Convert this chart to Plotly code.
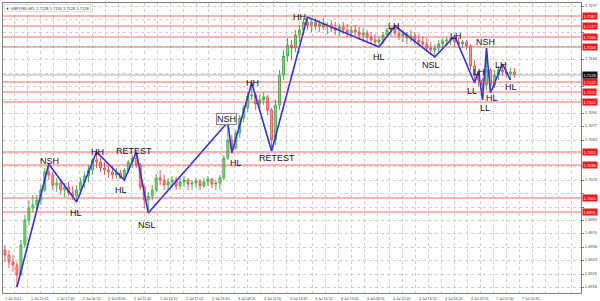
import plotly.graph_objects as go

# ---------------- data ----------------
first_open = 1.6953
highs = [1.6958,1.6953,1.6948,1.6941,1.6963,1.6988,1.7003,1.7008,1.7008,1.7018,
         1.7035,1.7039,1.7031,1.7025,1.7023,1.7020,1.7021,1.7017,1.7018,1.7025,
         1.7031,1.7038,1.7045,1.7051,1.7045,1.7041,1.7040,1.7037,1.7035,1.7033,
         1.7035,1.7043,1.7048,1.7051,1.7040,1.7018,1.7011,1.7018,1.7029,1.7033,
         1.7028,1.7025,1.7027,1.7026,1.7025,1.7027,1.7025,1.7023,1.7025,1.7024,
         1.7025,1.7027,1.7025,1.7023,1.7028,1.7048,1.7081,1.7068,1.7073,1.7088,
         1.7098,1.7111,1.7120,1.7111,1.7108,1.7111,1.7108,1.7095,1.7103,1.7133,
         1.7153,1.7165,1.7163,1.7173,1.7178,1.7185,1.7186,1.7185,1.7185,1.7183,
         1.7185,1.7181,1.7183,1.7181,1.7179,1.7181,1.7179,1.7177,1.7178,1.7176,
         1.7175,1.7173,1.7171,1.7169,1.7167,1.7171,1.7175,1.7176,1.7177,1.7175,
         1.7173,1.7171,1.7173,1.7171,1.7169,1.7167,1.7165,1.7161,1.7159,1.7163,
         1.7165,1.7166,1.7165,1.7167,1.7165,1.7163,1.7163,1.7159,1.7143,1.7132,
         1.7125,1.7155,1.7135,1.7133,1.7137,1.7139,1.7135,1.7135,1.7135]
lows = [1.6941,1.6935,1.6931,1.6916,1.6928,1.6955,1.6978,1.6991,1.6993,1.6998,
        1.7011,1.7023,1.7013,1.7011,1.7008,1.7006,1.7007,1.7003,1.7001,1.7008,
        1.7015,1.7021,1.7028,1.7035,1.7031,1.7028,1.7025,1.7024,1.7024,1.7024,
        1.7023,1.7030,1.7035,1.7035,1.7013,1.6995,1.6990,1.7003,1.7011,1.7018,
        1.7013,1.7013,1.7015,1.7013,1.7013,1.7016,1.7013,1.7013,1.7015,1.7013,
        1.7015,1.7017,1.7015,1.7013,1.7013,1.7023,1.7043,1.7050,1.7053,1.7065,
        1.7081,1.7091,1.7103,1.7093,1.7091,1.7098,1.7088,1.7052,1.7058,1.7093,
        1.7123,1.7141,1.7143,1.7151,1.7161,1.7168,1.7173,1.7171,1.7173,1.7171,
        1.7173,1.7169,1.7171,1.7168,1.7167,1.7169,1.7166,1.7165,1.7167,1.7163,
        1.7161,1.7161,1.7159,1.7157,1.7156,1.7159,1.7165,1.7167,1.7167,1.7163,
        1.7161,1.7159,1.7161,1.7158,1.7157,1.7155,1.7151,1.7148,1.7146,1.7151,
        1.7155,1.7157,1.7158,1.7157,1.7155,1.7155,1.7153,1.7133,1.7120,1.7117,
        1.7103,1.7113,1.7110,1.7115,1.7123,1.7127,1.7125,1.7123,1.7125]
closes = [1.6948,1.6941,1.6938,1.6928,1.6958,1.6983,1.6995,1.6998,1.7003,1.7013,
          1.7031,1.7028,1.7018,1.7020,1.7013,1.7016,1.7010,1.7007,1.7013,1.7021,
          1.7027,1.7033,1.7043,1.7041,1.7035,1.7033,1.7031,1.7028,1.7030,1.7025,
          1.7033,1.7041,1.7045,1.7038,1.7016,1.7003,1.7007,1.7013,1.7025,1.7023,
          1.7018,1.7021,1.7023,1.7017,1.7021,1.7023,1.7019,1.7020,1.7022,1.7017,
          1.7021,1.7024,1.7019,1.7020,1.7025,1.7045,1.7063,1.7055,1.7070,1.7085,
          1.7095,1.7107,1.7108,1.7099,1.7103,1.7106,1.7093,1.7063,1.7098,1.7128,
          1.7147,1.7158,1.7155,1.7168,1.7173,1.7181,1.7178,1.7181,1.7177,1.7179,
          1.7176,1.7178,1.7175,1.7173,1.7176,1.7173,1.7170,1.7173,1.7171,1.7168,
          1.7170,1.7166,1.7163,1.7161,1.7163,1.7168,1.7173,1.7174,1.7170,1.7167,
          1.7169,1.7165,1.7167,1.7163,1.7161,1.7159,1.7155,1.7153,1.7155,1.7159,
          1.7162,1.7163,1.7164,1.7161,1.7159,1.7161,1.7157,1.7137,1.7127,1.7123,
          1.7118,1.7133,1.7118,1.7128,1.7133,1.7131,1.7129,1.7131,1.7128]
opens = [first_open] + closes[:-1]
idx = list(range(len(closes)))

# zigzag swing points (candle index, price) and their pattern names
zz_idx = [3, 11, 18, 23, 30, 33, 36, 56, 57, 62, 67, 76, 94, 98, 108, 113, 118, 119, 120, 121, 122, 125, 127]
zz_price = [1.6916, 1.7039, 1.7001, 1.7051, 1.7023, 1.7051, 1.6990, 1.7081, 1.7050, 1.7120, 1.7052, 1.7186,
            1.7156, 1.7177, 1.7146, 1.7167, 1.7120, 1.7132, 1.7103, 1.7155, 1.7110, 1.7139, 1.7123]

lbl_text = ["NSH", "HL", "HH", "HL", "RETEST", "NSL", "NSH", "HL", "HH", "RETEST", "HH",
            "HL", "LH", "NSL", "LH", "LL", "LH", "LL", "NSH", "HL", "LH", "HL"]
lbl_x = [11.25, 17.75, 23.25, 29.25, 32.5, 35.75, 55.75, 58, 62.25, 68.25, 74,
         94, 97.75, 107, 113.25, 117.25, 119, 120.5, 120.75, 122.5, 124.75, 127.25]
lbl_y = [1.7042, 1.6990, 1.7051, 1.7013, 1.7052, 1.6978, 1.7084, 1.7040, 1.7120, 1.7045, 1.7186,
         1.7146, 1.7177, 1.7138, 1.7167, 1.7112, 1.7131, 1.7095, 1.7161, 1.7105, 1.7138, 1.7116]
lbl_boxed = [False] * 6 + [True] + [False] * 15

# horizontal support / resistance levels
levels = [1.7187, 1.7177, 1.7166, 1.7156, 1.7121, 1.7111, 1.7101, 1.7051, 1.7038, 1.7005, 1.6991]
bid = 1.7128

# price axis labels
ytick_vals = [1.7197, 1.7184, 1.7171, 1.7157, 1.7144, 1.7130, 1.7117, 1.7104, 1.7090, 1.7077, 1.7063,
              1.7050, 1.7037, 1.7023, 1.7010, 1.6996, 1.6983, 1.6970, 1.6956, 1.6943, 1.6929, 1.6916]

# time axis labels
xlabels = ["1 Jul 2014", "1 Jul 15:05", "1 Jul 17:45", "2 Jul 06:25", "2 Jul 09:05", "2 Jul 11:45",
           "2 Jul 14:25", "2 Jul 17:05", "2 Jul 19:45", "3 Jul 08:25", "3 Jul 11:05", "3 Jul 13:45",
           "3 Jul 16:25", "3 Jul 19:05", "4 Jul 08:05", "4 Jul 10:45", "4 Jul 13:25", "4 Jul 16:05",
           "4 Jul 19:05", "7 Jul 07:00", "7 Jul 10:30"]

title_text = "\u25bc GBPUSD,M5  1.7128 1.7130 1.7126 1.7128"

# ---------------- figure ----------------
fig = go.Figure()
fig.add_trace(go.Candlestick(
    x=idx, open=opens, high=highs, low=lows, close=closes,
    increasing=dict(line=dict(color="#4fae4f", width=1), fillcolor="#8fd68f"),
    decreasing=dict(line=dict(color="#e25c5c", width=1), fillcolor="#f2a0a0"),
    whiskerwidth=0, hoverinfo="skip", showlegend=False))

fig.add_trace(go.Scatter(x=zz_idx, y=zz_price, mode="lines",
                         line=dict(color="#3030e0", width=1.6),
                         hoverinfo="skip", showlegend=False))

shapes = []
for lv in levels:
    shapes.append(dict(type="line", xref="paper", x0=0, x1=1, yref="y", y0=lv, y1=lv,
                       line=dict(color="rgba(235,70,70,0.8)", width=1), layer="above"))
shapes.append(dict(type="line", xref="paper", x0=0, x1=1, yref="y", y0=bid, y1=bid,
                   line=dict(color="#b0b0b0", width=1), layer="below"))

annotations = []
for t, x, y, b in zip(lbl_text, lbl_x, lbl_y, lbl_boxed):
    a = dict(x=x, y=y, xref="x", yref="y", text=t, showarrow=False,
             font=dict(family="Liberation Sans, Arial", size=9, color="#111"))
    if b:
        a.update(bordercolor="#888", borderwidth=1, borderpad=0, bgcolor="rgba(255,255,255,0.85)")
    annotations.append(a)

for lv in levels:
    annotations.append(dict(x=1, xref="paper", xanchor="left", xshift=1, y=lv, yref="y",
                            text="%.4f" % lv, showarrow=False, bgcolor="#f01818",
                            font=dict(family="Liberation Sans, Arial", size=4, color="white"),
                            borderpad=0.5))
annotations.append(dict(x=1, xref="paper", xanchor="left", xshift=1, y=bid, yref="y",
                        text="%.4f" % bid, showarrow=False, bgcolor="#111111",
                        font=dict(family="Liberation Sans, Arial", size=4, color="white"),
                        borderpad=0.5))

for k, lab in enumerate(xlabels):
    annotations.append(dict(x=6.5 * k - 0.5, xref="x", xanchor="left", xshift=0,
                            y=0, yref="paper", yanchor="top", yshift=-2,
                            text=lab, showarrow=False,
                            font=dict(family="Liberation Sans, Arial", size=3.6, color="#444")))

annotations.append(dict(x=0, y=1, xref="paper", yref="paper", xanchor="left", yanchor="top",
                        xshift=1, yshift=-1, text=title_text, showarrow=False, bgcolor="white",
                        bordercolor="#dddddd", borderwidth=1,
                        font=dict(family="Liberation Sans, Arial", size=4, color="#333"),
                        borderpad=0.5))

grid_x = [3.25 * m - 0.75 for m in range(45)]

# price labels hidden where a level marker covers them (as in the terminal)
marked = levels + [bid]
ytick_text = ["" if any(abs(v - m) < 0.00055 for m in marked) else "%.4f" % v for v in ytick_vals]

fig.update_layout(
    width=600, height=301, margin=dict(l=2, r=17, t=3, b=8),
    paper_bgcolor="white", plot_bgcolor="white",
    shapes=shapes, annotations=annotations,
    xaxis=dict(range=[-0.5, 144.75], tickvals=grid_x, ticktext=[""] * len(grid_x),
               showgrid=True, gridcolor="#cfcfcf", griddash="dot", gridwidth=1,
               showline=True, linecolor="#808080", mirror=True, ticks="",
               zeroline=False, rangeslider=dict(visible=False), fixedrange=True),
    yaxis=dict(side="right", range=[1.6910, 1.7200], tickvals=ytick_vals,
               ticktext=ytick_text,
               tickfont=dict(family="Liberation Sans, Arial", size=4, color="#444"),
               showgrid=True, gridcolor="#cfcfcf", griddash="dot", gridwidth=1,
               showline=True, linecolor="#808080", mirror=True,
               ticks="outside", ticklen=2, tickcolor="#808080",
               zeroline=False, fixedrange=True),
)

fig.write_html("out.html")
